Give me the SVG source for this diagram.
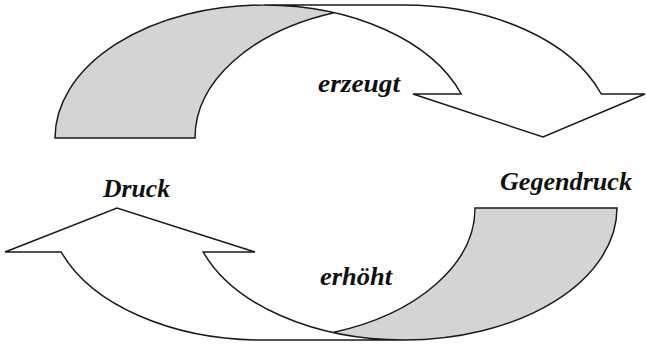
<svg xmlns="http://www.w3.org/2000/svg" width="646" height="344" viewBox="0 0 646 344">
  <style>
    .front { fill: #ffffff; stroke: none; }
    .back { fill: #d4d4d4; stroke: none; }
    .edge { fill: none; stroke: #1a1a1a; stroke-width: 1.5; stroke-linejoin: miter; }
    .label { font-family: "Liberation Serif", "Times New Roman", serif; font-size: 26px; font-weight: bold; font-style: italic; fill: #111111; }
  </style>
  <rect width="646" height="344" fill="#ffffff"/>

  <!-- Upper curved arrow: band between two shifted ellipses (rx 209, ry 133), head pointing down -->
  <g id="arrow-erzeugt">
    <path class="front" d="M 543 137 L 413 94 L 461.24 94 A 209 133 0 0 0 264 5 L 404 5 A 209 133 0 0 1 601.24 94 L 645 94 Z"/>
    <path class="back" d="M 334 12.68 A 209 133 0 0 0 195 138 L 55 138 A 209 133 0 0 1 334 12.68 Z"/>
    <path class="edge" d="M 334 12.68 A 209 133 0 0 0 195 138 L 55 138 A 209 133 0 0 1 264 5 L 404 5 A 209 133 0 0 1 601.24 94 L 645 94 L 543 137 L 413 94 L 461.24 94 A 209 133 0 0 0 264 5"/>
  </g>

  <!-- Lower curved arrow: same construction turned upside down, head pointing up -->
  <g id="arrow-erhoeht">
    <path class="front" d="M 117 208 L 255 252 L 203.2 252 A 213 132 0 0 0 404 340 L 262 340 A 213 132 0 0 1 61.2 252 L 5 252 Z"/>
    <path class="back" d="M 333 332.45 A 213 132 0 0 0 475 208 L 617 208 A 213 132 0 0 1 333 332.45 Z"/>
    <path class="edge" d="M 333 332.45 A 213 132 0 0 0 475 208 L 617 208 A 213 132 0 0 1 404 340 L 262 340 A 213 132 0 0 1 61.2 252 L 5 252 L 117 208 L 255 252 L 203.2 252 A 213 132 0 0 0 404 340"/>
  </g>

  <g id="labels">
    <text id="label-erzeugt" class="label" x="318" y="92" textLength="82" lengthAdjust="spacingAndGlyphs">erzeugt</text>
    <text id="label-druck" class="label" x="103" y="197" textLength="67" lengthAdjust="spacingAndGlyphs">Druck</text>
    <text id="label-gegendruck" class="label" x="500" y="190" textLength="132" lengthAdjust="spacingAndGlyphs">Gegendruck</text>
    <text id="label-erhoeht" class="label" x="320" y="285" textLength="72" lengthAdjust="spacingAndGlyphs">erhöht</text>
  </g>
</svg>
